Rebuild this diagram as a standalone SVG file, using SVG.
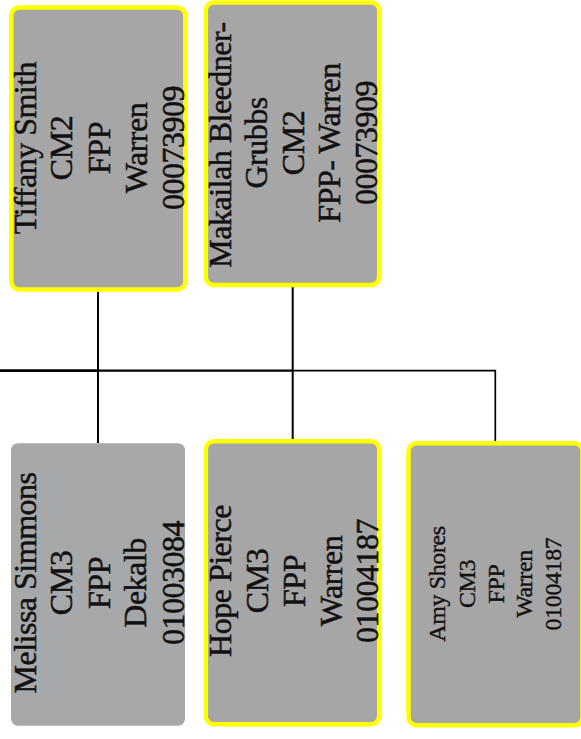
<svg xmlns="http://www.w3.org/2000/svg" width="581" height="739" viewBox="0 0 581 739">
<style>
.box{fill:#a6a6a6;stroke:#ffff00;stroke-width:4.5}
.plain{fill:#a7a8aa;stroke:none}
.t{font-family:"Liberation Serif","Times New Roman",serif;font-size:32px;letter-spacing:-0.5px;fill:#111;stroke:#111;stroke-width:0.5;text-anchor:middle}
.s{font-family:"Liberation Serif","Times New Roman",serif;font-size:24px;letter-spacing:-0.4px;fill:#111;stroke:#111;stroke-width:0.4;text-anchor:middle}
.ln{fill:none;stroke:#000;stroke-width:2}
</style>
<rect width="581" height="739" fill="#fff"/>
<g id="connectors">
<path class="ln" d="M0 370.6H98" style="stroke-width:2.8"/>
<path class="ln" d="M98 370.6H292" style="stroke-width:2.3"/>
<path class="ln" d="M292 370.6H495.3V441" style="stroke-width:1.7"/>
<path class="ln" d="M98 292V443"/>
<path class="ln" d="M292.7 287V439"/>
</g>
<g id="tiffany">
<rect class="box" x="11.3" y="7.5" width="174" height="282" rx="8"/>
<g transform="rotate(-90)">
<text class="t" x="-148" y="35.5">Tiffany Smith</text>
<text class="t" x="-148" y="72">CM2</text>
<text class="t" x="-148" y="109.5">FPP</text>
<text class="t" x="-148" y="146.5">Warren</text>
<text class="t" x="-148" y="183.5">00073909</text>
</g>
</g>
<g id="makailah">
<rect class="box" x="205.8" y="2.5" width="173.4" height="282.5" rx="8"/>
<g transform="rotate(-90)">
<text class="t" x="-145" y="231">Makailah Bleedner-</text>
<text class="t" x="-143" y="267">Grubbs</text>
<text class="t" x="-143" y="303.5">CM2</text>
<text class="t" x="-143" y="340">FPP- Warren</text>
<text class="t" x="-143" y="377">00073909</text>
</g>
</g>
<g id="melissa">
<rect class="plain" x="11" y="443.3" width="174" height="282.4" rx="7"/>
<g transform="rotate(-90)">
<text class="t" x="-583" y="35.5">Melissa Simmons</text>
<text class="t" x="-583" y="72">CM3</text>
<text class="t" x="-583" y="109.5">FPP</text>
<text class="t" x="-583" y="146">Dekalb</text>
<text class="t" x="-583" y="183.5">01003084</text>
</g>
</g>
<g id="hope">
<rect class="box" x="205.8" y="441.3" width="173.4" height="283" rx="8"/>
<g transform="rotate(-90)">
<text class="t" x="-581" y="231">Hope Pierce</text>
<text class="t" x="-581" y="267.5">CM3</text>
<text class="t" x="-581" y="305">FPP</text>
<text class="t" x="-581" y="341.5">Warren</text>
<text class="t" x="-581" y="378">01004187</text>
</g>
</g>
<g id="amy">
<rect class="box" x="408.5" y="443.2" width="174" height="282" rx="8"/>
<g transform="rotate(-90)">
<text class="s" x="-584" y="445">Amy Shores</text>
<text class="s" x="-584" y="475">CM3</text>
<text class="s" x="-584" y="503.5">FPP</text>
<text class="s" x="-584" y="532">Warren</text>
<text class="s" x="-584" y="561">01004187</text>
</g>
</g>
</svg>
